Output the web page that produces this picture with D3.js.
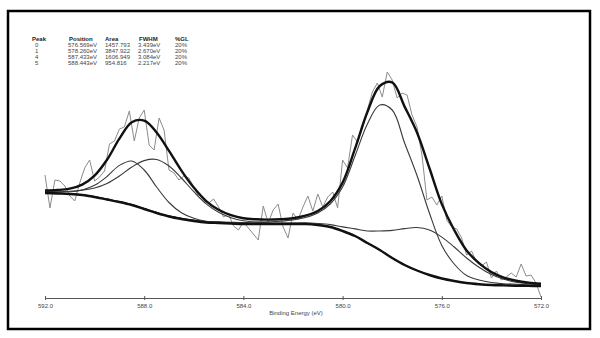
<!DOCTYPE html>
<html>
<head>
<meta charset="utf-8">
<script src="https://cdn.jsdelivr.net/npm/d3@7"></script>
<style>
  body { margin: 0; background: #fff; }
  svg { display: block; font-family: "Liberation Sans", Arial, sans-serif; }
</style>
</head>
<body>
<div id="chart"></div>
<script>
// fit table (peak parameters as printed)
const peakIds = ["0", "1", "4", "5"];
const peakPositions = ["576.569eV", "578.260eV", "587.433eV", "588.443eV"];
const peakAreas = ["1457.793", "3847.922", "1606.949", "954.816"];
const peakFwhm = ["3.439eV", "2.670eV", "3.084eV", "2.217eV"];
const peakGL = ["20%", "20%", "20%", "20%"];

const xTicks = [592, 588, 584, 580, 576, 572];

// fitted curves, every 0.5 eV
const fitEnergy = [592, 591.5, 591, 590.5, 590, 589.5, 589, 588.5, 588, 587.5, 587, 586.5, 586, 585.5, 585, 584.5, 584,
  583.5, 583, 582.5, 582, 581.5, 581, 580.5, 580, 579.5, 579, 578.5, 578, 577.5, 577, 576.5, 576, 575.5, 575, 574.5,
  574, 573.5, 573, 572.5, 572];
const background = [105, 104.5, 104, 103, 101, 98.5, 96, 93, 89, 85, 81.5, 79, 77, 75.5, 75, 74.5, 74,
  74, 74, 74, 74, 74, 73, 71, 67, 62, 55, 48, 40, 33, 27.5, 23, 19.5, 17, 15, 13.8, 13, 12.6, 12.3, 12.1, 12];
const envelope = [107.5, 108, 109.4, 113.4, 122.4, 138.2, 159.3, 175.8, 177.4, 165.6, 147.1, 127.4, 110.4, 96.9, 88.2, 82.8, 79.7,
  78.7, 78.4, 78.8, 79.8, 82.3, 87, 96.8, 115.4, 149.3, 186, 212, 215.6, 191.4, 165.5, 130, 93.9, 68, 47.5, 34.9, 25.9, 20.4, 17.3, 15.4, 14.3];
const peak0 = [105.2, 104.7, 104.2, 103.2, 101.3, 98.8, 96.3, 93.3, 89.4, 85.4, 81.9, 79.4, 77.5, 76, 75.5, 75, 74.5,
  74.6, 74.7, 74.8, 74.9, 75.1, 74.5, 73.4, 71.1, 69.1, 67, 67, 67.6, 69.4, 70.5, 68, 60.9, 51, 40, 30.7, 23.4, 18.7, 15.8, 14.2, 13.3];
const peak1 = [105.3, 104.8, 104.3, 103.3, 101.4, 98.9, 96.4, 93.5, 89.6, 85.7, 82.2, 79.8, 77.9, 76.5, 76.1, 75.8, 75.5,
  75.8, 76.2, 76.8, 78, 80.5, 85, 94, 111, 142, 174, 193, 188, 155, 122.5, 85, 52.5, 34, 22.5, 18, 15.5, 14.3, 13.8, 13.3, 13];
const peak4 = [106.2, 106.2, 106.7, 107.9, 110, 114.5, 122, 131, 137.4, 138.5, 132, 120, 106.3, 94.1, 85.7, 80.3, 77.2,
  75.9, 75.2, 74.9, 74.7, 74.5, 73.4, 71.3, 67.2, 62.1, 55, 48, 40, 33, 27.5, 23, 19.5, 17, 15, 13.8, 13, 12.6, 12.3, 12.1, 12];
const peak5 = [105.8, 105.8, 106.2, 108, 112.7, 121.5, 132.6, 137, 128, 111, 95.5, 85.2, 79.7, 76.8, 75.9, 75.2, 74.5,
  74.4, 74.3, 74.3, 74.2, 74.2, 73.1, 71.1, 67.1, 62.1, 55, 48, 40, 33, 27.5, 23, 19.5, 17, 15, 13.8, 13, 12.6, 12.3, 12.1, 12];

// measured spectrum, every 0.2 eV
const rawEnergy = [592, 591.8, 591.6, 591.4, 591.2, 591, 590.8, 590.6, 590.4, 590.2, 590, 589.8, 589.6, 589.4, 589.2, 589,
  588.8, 588.6, 588.4, 588.2, 588, 587.8, 587.6, 587.4, 587.2, 587, 586.8, 586.6, 586.4, 586.2, 586, 585.8, 585.6, 585.4,
  585.2, 585, 584.8, 584.6, 584.4, 584.2, 584, 583.8, 583.6, 583.4, 583.2, 583, 582.8, 582.6, 582.4, 582.2, 582, 581.8,
  581.6, 581.4, 581.2, 581, 580.8, 580.6, 580.4, 580.2, 580, 579.8, 579.6, 579.4, 579.2, 579, 578.8, 578.6, 578.4, 578.2,
  578, 577.8, 577.6, 577.4, 577.2, 577, 576.8, 576.6, 576.4, 576.2, 576, 575.8, 575.6, 575.4, 575.2, 575, 574.8, 574.6,
  574.4, 574.2, 574, 573.8, 573.6, 573.4, 573.2, 573, 572.8, 572.6, 572.4, 572.2, 572];
const rawCounts = [123, 90, 118, 117, 112, 102, 97, 115, 130, 138, 117, 121, 127, 154, 157, 169, 171, 187, 157, 180,
  188, 153, 148, 180, 168, 128, 125, 118, 122, 120, 111, 101, 97, 95, 99, 91, 81, 84, 72, 68,
  76, 70, 64, 58, 92, 75, 88, 94, 71, 60, 85, 78, 91, 102, 87, 104, 91, 101, 106, 90,
  138, 130, 163, 156, 170, 188, 206, 215, 201, 226, 218, 200, 205, 203, 183, 171, 143, 98, 101, 93,
  102, 78, 71, 69, 60, 43, 47, 36, 32, 36, 20, 27, 18, 21, 25, 21, 34, 22, 23, 15, 1];

const width = 600, height = 338;

const svg = d3.select("#chart")
  .append("svg")
  .attr("width", width)
  .attr("height", height);

svg.append("rect")
  .attr("x", 8)
  .attr("y", 11)
  .attr("width", 582)
  .attr("height", 318)
  .attr("fill", "none")
  .attr("stroke", "#000")
  .attr("stroke-width", 2.5);

const x = d3.scaleLinear().domain([592, 572]).range([45, 541]);
const y = d3.scaleLinear().domain([0, 240]).range([298, 58]);

// axis
const xAxis = d3.axisBottom(x)
  .tickValues(xTicks)
  .tickFormat(d3.format(".1f"))
  .tickSizeInner(2)
  .tickSizeOuter(0)
  .tickPadding(4);

const gx = svg.append("g")
  .attr("transform", `translate(0,${y(0)})`)
  .call(xAxis);
gx.select(".domain").attr("stroke", "#555");
gx.selectAll(".tick line").attr("stroke", "#555").attr("y1", -2).attr("y2", 2);
gx.selectAll(".tick text").attr("fill", "#444").style("font-size", "6px");

svg.append("text")
  .attr("x", 296)
  .attr("y", 315)
  .attr("text-anchor", "middle")
  .attr("fill", "#444")
  .style("font-size", "6px")
  .text("Binding Energy (eV)");

// lines
const fitLine = d3.line()
  .x((d, i) => x(fitEnergy[i]))
  .y(d => y(d))
  .curve(d3.curveCatmullRom.alpha(0.5));

const rawLine = d3.line()
  .x((d, i) => x(rawEnergy[i]))
  .y(d => y(d));

svg.append("path")
  .datum(rawCounts)
  .attr("d", rawLine)
  .attr("fill", "none")
  .attr("stroke", "#8c8c8c")
  .attr("stroke-width", 1);

[peak0, peak1, peak4, peak5].forEach(p => {
  svg.append("path")
    .datum(p)
    .attr("d", fitLine)
    .attr("fill", "none")
    .attr("stroke", "#3a3a3a")
    .attr("stroke-width", 1.1);
});

[background, envelope].forEach(p => {
  svg.append("path")
    .datum(p)
    .attr("d", fitLine)
    .attr("fill", "none")
    .attr("stroke", "#111")
    .attr("stroke-width", 2.4);
});

// fit table
const cols = [
  { head: "Peak", x: 32, vals: peakIds, vx: 35 },
  { head: "Position", x: 69, vals: peakPositions, vx: 68 },
  { head: "Area", x: 105, vals: peakAreas, vx: 105 },
  { head: "FWHM", x: 139, vals: peakFwhm, vx: 138 },
  { head: "%GL", x: 175, vals: peakGL, vx: 175 }
];

const table = svg.append("g").style("font-size", "6px").attr("fill", "#222");
cols.forEach(c => {
  table.append("text")
    .attr("x", c.x)
    .attr("y", 41)
    .style("font-weight", "bold")
    .text(c.head);
  c.vals.forEach((v, i) => {
    table.append("text")
      .attr("x", c.vx)
      .attr("y", 47 + i * 6)
      .attr("fill", "#444")
      .text(v);
  });
});
</script>
</body>
</html>
